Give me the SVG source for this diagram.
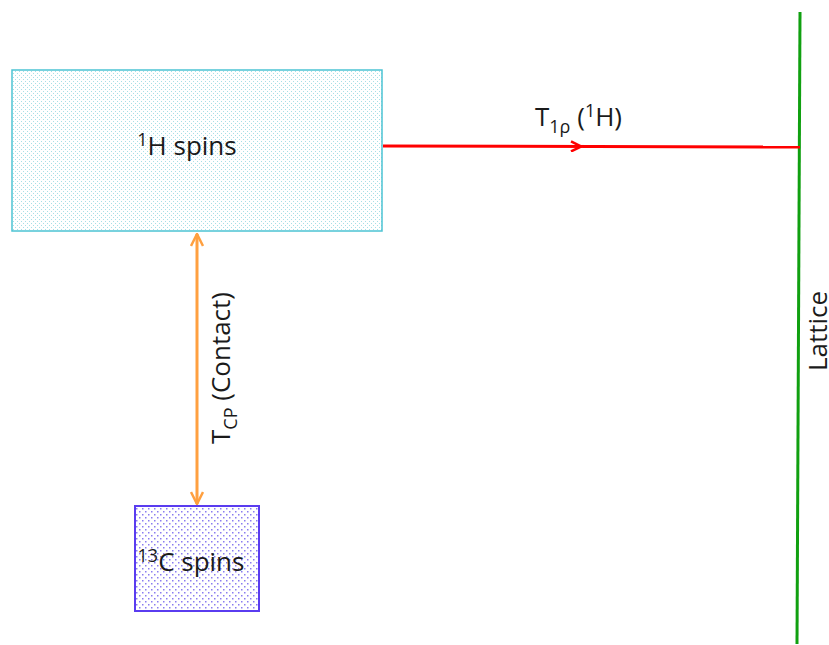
<svg xmlns="http://www.w3.org/2000/svg" width="829" height="645" viewBox="0 0 829 645">
  <style>
    .label { font-family: "Open Sans", "Liberation Sans", sans-serif; fill: #1a1a1a; font-size: 26px; }
    .sup { font-size: 18px; }
  </style>
  <defs>
    <!-- dotted fills for the spin reservoirs -->
    <pattern id="dotsCyan" width="4" height="4" patternUnits="userSpaceOnUse">
      <rect x="1" y="1" width="1" height="1" fill="#a8dfe6"/>
      <rect x="3" y="3" width="1" height="1" fill="#a8dfe6"/>
    </pattern>
    <pattern id="dotsViolet" width="6" height="6" patternUnits="userSpaceOnUse">
      <rect x="1" y="1" width="1.5" height="1.5" fill="#8a7cf0"/>
      <rect x="4" y="4" width="1.5" height="1.5" fill="#8a7cf0"/>
    </pattern>
    <marker id="chevRed" viewBox="0 0 12 12" refX="11" refY="6" markerWidth="12" markerHeight="12" markerUnits="userSpaceOnUse" orient="auto">
      <path d="M1,1 L11,6 L1,11" fill="none" stroke="#ff0000" stroke-width="2.5"/>
    </marker>
    <marker id="chevOrange" viewBox="0 0 14 14" refX="13" refY="7" markerWidth="14" markerHeight="14" markerUnits="userSpaceOnUse" orient="auto-start-reverse">
      <path d="M1,1 L13,7 L1,13" fill="none" stroke="#ffa040" stroke-width="2.5"/>
    </marker>
  </defs>

  <g id="lattice">
    <line x1="800" y1="12" x2="797" y2="644" stroke="#10a010" stroke-width="3"/>
    <text class="label" x="0" y="0" text-anchor="middle" transform="translate(827,331) rotate(-90)">Lattice</text>
  </g>

  <g id="h-spins">
    <rect x="12" y="70" width="370" height="161" fill="#ffffff"/>
    <rect x="12" y="70" width="370" height="161" fill="url(#dotsCyan)" stroke="#4cc3d3" stroke-width="1.5"/>
    <text class="label" x="187" y="155" text-anchor="middle"><tspan class="sup" dy="-9">1</tspan><tspan dy="9">H spins</tspan></text>
  </g>

  <g id="c-spins">
    <rect x="135" y="506" width="124" height="105" fill="#ffffff"/>
    <rect x="135" y="506" width="124" height="105" fill="url(#dotsViolet)" stroke="#5a3cf0" stroke-width="2"/>
    <text class="label" x="191" y="571" text-anchor="middle" font-size="24"><tspan class="sup" font-size="17" dy="-9">13</tspan><tspan dy="9">C spins</tspan></text>
  </g>

  <g id="connectors">
    <line x1="383" y1="146" x2="800" y2="147" stroke="#ff0000" stroke-width="3"/>
    <line x1="383" y1="146" x2="581" y2="146.5" stroke="none" marker-end="url(#chevRed)"/>
    <line x1="197" y1="234" x2="197" y2="504" stroke="#ffa040" stroke-width="3" marker-start="url(#chevOrange)" marker-end="url(#chevOrange)"/>
    <text class="label" x="535" y="126">T<tspan class="sup" dy="7">1ρ</tspan><tspan dy="-7"> (</tspan><tspan class="sup" dy="-9">1</tspan><tspan dy="9">H)</tspan></text>
    <text class="label" x="0" y="0" text-anchor="middle" transform="translate(230,368) rotate(-90)">T<tspan class="sup" dy="7">CP</tspan><tspan dy="-7"> (Contact)</tspan></text>
  </g>
</svg>
